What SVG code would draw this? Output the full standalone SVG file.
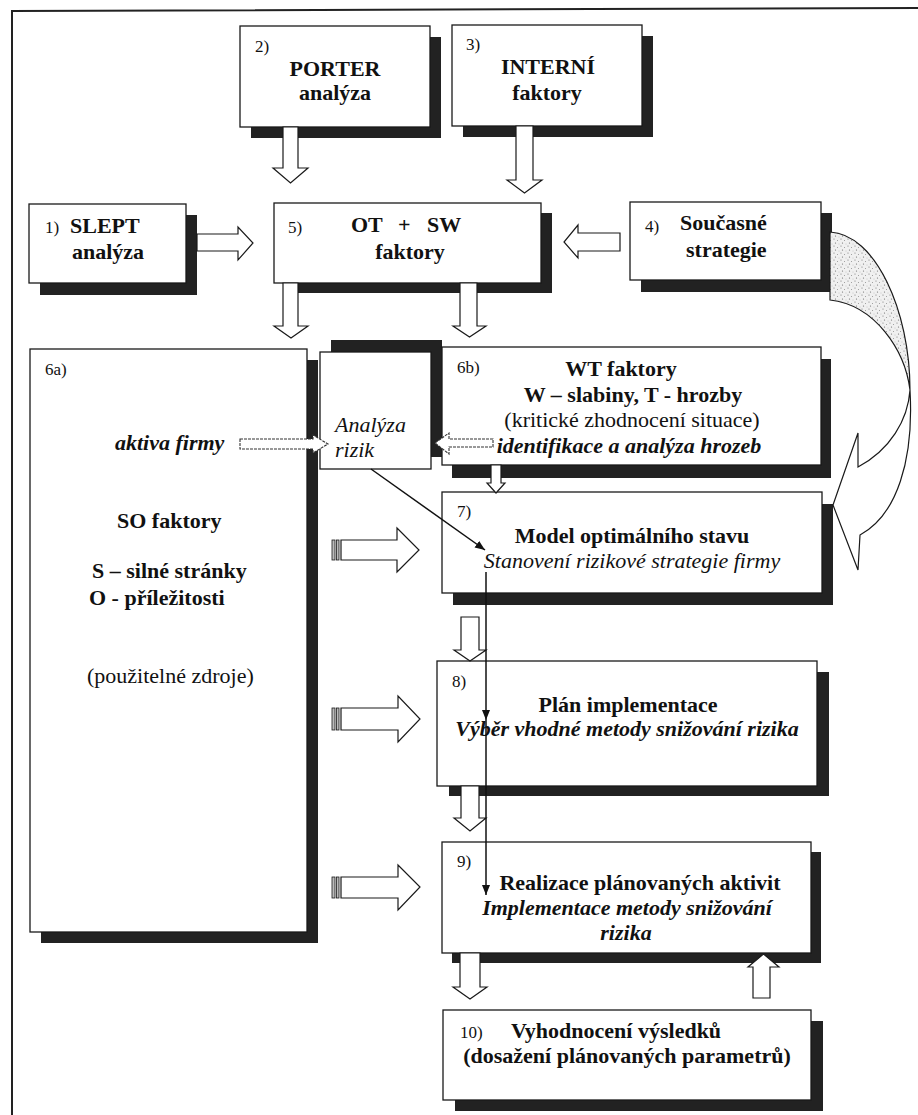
<svg xmlns="http://www.w3.org/2000/svg" width="918" height="1115" viewBox="0 0 918 1115">
<defs>
<style>
.box{fill:#fff;stroke:#1a1a1a;stroke-width:1.3}
.sh{fill:#222}
.t{font-family:Liberation Serif, Times New Roman, serif;font-size:22px;fill:#111}
.b{font-weight:bold}
.i{font-style:italic}
.n{font-size:17px}
.m{text-anchor:middle}
.ba{fill:#fff;stroke:#1a1a1a;stroke-width:1.2}
.da{fill:#fff;stroke:#333;stroke-width:1.1;stroke-dasharray:3 1}
.st{fill:#bbb;stroke:#1a1a1a;stroke-width:0.8}
.ln{fill:none;stroke:#111;stroke-width:1.5}
</style>
<pattern id="stip" width="7" height="7" patternUnits="userSpaceOnUse">
<rect width="7" height="7" fill="#f0f0f0"/>
<circle cx="1" cy="1" r="0.6" fill="#777"/>
<circle cx="4.5" cy="2.5" r="0.5" fill="#888"/>
<circle cx="2.5" cy="5" r="0.6" fill="#666"/>
<circle cx="6" cy="6" r="0.4" fill="#999"/>
</pattern>
<marker id="ah" markerUnits="userSpaceOnUse" markerWidth="11" markerHeight="9" refX="10" refY="4" orient="auto">
<path d="M0,0 L10,4 L0,8 Z" fill="#111"/>
</marker>
</defs>
<rect width="918" height="1115" fill="#fff"/>
<g id="frame">
<path d="M12,1115 L12,11 L918,8" fill="none" stroke="#222" stroke-width="2"/>
</g>
<g font-family="Liberation Serif, Times New Roman, serif">
<g id="n2">
<rect class="sh" x="251" y="37" width="190" height="101"/>
<rect class="box" x="240" y="26" width="190" height="101"/>
<text class="t n" x="255" y="52">2)</text>
<text class="t b m" x="335" y="76">PORTER</text>
<text class="t b m" x="335" y="100">analýza</text>
</g>
<g id="n3">
<rect class="sh" x="463" y="36" width="190" height="101"/>
<rect class="box" x="452" y="25" width="190" height="101"/>
<text class="t n" x="466" y="50">3)</text>
<text class="t b m" x="548" y="74">INTERNÍ</text>
<text class="t b m" x="547" y="100">faktory</text>
</g>
<g id="n1">
<rect class="sh" x="40" y="215" width="157" height="80"/>
<rect class="box" x="29" y="204" width="157" height="79"/>
<text class="t n" x="45" y="233">1)</text>
<text class="t b" x="70" y="233">SLEPT</text>
<text class="t b" x="72" y="259">analýza</text>
</g>
<g id="n5">
<rect class="sh" x="285" y="213" width="267" height="80"/>
<rect class="box" x="274" y="203" width="267" height="80"/>
<text class="t n" x="288" y="233">5)</text>
<text class="t b" y="232"><tspan x="351">OT</tspan><tspan x="398">+</tspan><tspan x="427">SW</tspan></text>
<text class="t b m" x="410" y="259">faktory</text>
</g>
<g id="n4">
<rect class="sh" x="641" y="213" width="191" height="79"/>
<rect class="box" x="630" y="202" width="191" height="78"/>
<text class="t n" x="645" y="232">4)</text>
<text class="t b" x="680" y="230">Současné</text>
<text class="t b" x="686" y="257">strategie</text>
</g>
<g id="n6a">
<rect class="sh" x="41" y="360" width="277" height="583"/>
<rect class="box" x="30" y="349" width="277" height="583"/>
<text class="t n" x="45" y="375">6a)</text>
<text class="t b i" x="115" y="450">aktiva firmy</text>
<text class="t b" x="117" y="528">SO faktory</text>
<text class="t b" x="92" y="578">S – silné stránky</text>
<text class="t b" x="89" y="605">O -  příležitosti</text>
<text class="t" x="87" y="683">(použitelné zdroje)</text>
</g>
<g id="nrizik">
<rect class="sh" x="331" y="340" width="111" height="117"/>
<rect class="box" x="320" y="352" width="111" height="117"/>
<text class="t i" x="335" y="432">Analýza</text>
<text class="t i" x="335" y="457">rizik</text>
</g>
<g id="n6b">
<rect class="sh" x="452" y="359" width="379" height="119"/>
<rect class="box" x="442" y="347" width="379" height="118"/>
<text class="t n" x="457" y="373">6b)</text>
<text class="t b m" x="621" y="376">WT faktory</text>
<text class="t b m" x="633" y="402">W – slabiny, T - hrozby</text>
<text class="t m" x="632" y="427">(kritické zhodnocení situace)</text>
<text class="t b i m" x="629" y="453">identifikace a analýza hrozeb</text>
</g>
<g id="n7">
<rect class="sh" x="453" y="504" width="380" height="101"/>
<rect class="box" x="442" y="492" width="380" height="101"/>
<text class="t n" x="457" y="517">7)</text>
<text class="t b m" x="632" y="543">Model optimálního stavu</text>
<text class="t i m" x="632" y="568">Stanovení rizikové strategie firmy</text>
</g>
<g id="n8">
<rect class="sh" x="449" y="672" width="380" height="124"/>
<rect class="box" x="437" y="661" width="380" height="125"/>
<text class="t n" x="452" y="687">8)</text>
<text class="t b m" x="628" y="712">Plán implementace</text>
<text class="t b i m" x="627" y="736">Výběr vhodné metody snižování rizika</text>
</g>
<g id="n9">
<rect class="sh" x="452" y="852" width="369" height="111"/>
<rect class="box" x="442" y="842" width="369" height="111"/>
<text class="t n" x="457" y="867">9)</text>
<text class="t b m" x="640" y="890">Realizace plánovaných aktivit</text>
<text class="t b i m" x="627" y="915">Implementace metody snižování</text>
<text class="t b i m" x="626" y="940">rizika</text>
</g>
<g id="n10">
<rect class="sh" x="455" y="1021" width="368" height="90"/>
<rect class="box" x="443" y="1010" width="368" height="90"/>
<text class="t n" x="460" y="1038">10)</text>
<text class="t b" x="511" y="1038">Vyhodnocení výsledků</text>
<text class="t b m" x="627" y="1063">(dosažení plánovaných parametrů)</text>
</g>
</g>
<g id="connectors">
<path class="ba" d="M283,127 L298,127 L298,168 L308,168 L290.5,183 L273,168 L283,168 Z"/>
<path class="ba" d="M516,126 L533,126 L533,180 L542,180 L524.5,193 L507,180 L516,180 Z"/>
<path class="ba" d="M197,234 L238,234 L238,227 L253,243 L238,260 L238,251 L197,251 Z"/>
<path class="ba" d="M620,233 L578,233 L578,225 L564,242 L578,258 L578,251 L620,251 Z"/>
<path class="ba" d="M283,283 L298,283 L298,326 L308,326 L291,338 L274,326 L283,326 Z"/>
<path class="ba" d="M460,283 L477,283 L477,326 L486,326 L469.5,337 L453,326 L460,326 Z"/>
<path class="ba" d="M491,465 L501,465 L501,483 L505,483 L496,493 L487,483 L491,483 Z"/>
<path class="ba" d="M461,617 L479,617 L479,650 L486,650 L470,661 L454,650 L461,650 Z"/>
<path class="ba" d="M461,786 L479,786 L479,818 L486,818 L470,831 L454,818 L461,818 Z"/>
<path class="ba" d="M460,953 L480,953 L480,987 L487,987 L470,999 L453,987 L460,987 Z"/>
<path class="ba" d="M753,998 L770,998 L770,967 L779,967 L763.5,954 L748,967 L753,967 Z"/>
<path class="da" d="M240,439 L313,439 L313,435 L328,444 L313,453 L313,449 L240,449 Z"/>
<path class="da" d="M493,439 L449,439 L449,433 L435,443 L449,454 L449,447 L493,447 Z"/>
<rect class="st" x="332" y="540" width="3" height="20"/>
<rect class="st" x="336.5" y="540" width="2.5" height="20"/>
<path class="ba" d="M341,540 L397,540 L397,528 L419,550 L397,572 L397,560 L341,560 Z"/>
<rect class="st" x="332" y="708" width="3" height="22"/>
<rect class="st" x="336.5" y="708" width="2.5" height="22"/>
<path class="ba" d="M341,708 L398,708 L398,696 L420,719 L398,742 L398,730 L341,730 Z"/>
<rect class="st" x="332" y="877" width="3" height="21"/>
<rect class="st" x="336.5" y="877" width="2.5" height="21"/>
<path class="ba" d="M341,877 L398,877 L398,865 L420,887 L398,910 L398,898 L341,898 Z"/>
<path class="ln" d="M371,469 L485,550" marker-end="url(#ah)"/>
<path class="ln" d="M486,572 L486,720" marker-end="url(#ah)"/>
<path class="ln" d="M486,720 L486,895" marker-end="url(#ah)"/>
<path d="M830,232 C875,234 910,310 910,390 C905,350 875,305 830,300 Z" fill="url(#stip)" stroke="#1a1a1a" stroke-width="1.2"/>
<path d="M910,390 C914,460 897,515 860,535 L858,570 L833,505 L858,433 L858,467 C890,450 908,420 910,390 Z" fill="#fff" stroke="#1a1a1a" stroke-width="1.2"/>
</g>
</svg>
